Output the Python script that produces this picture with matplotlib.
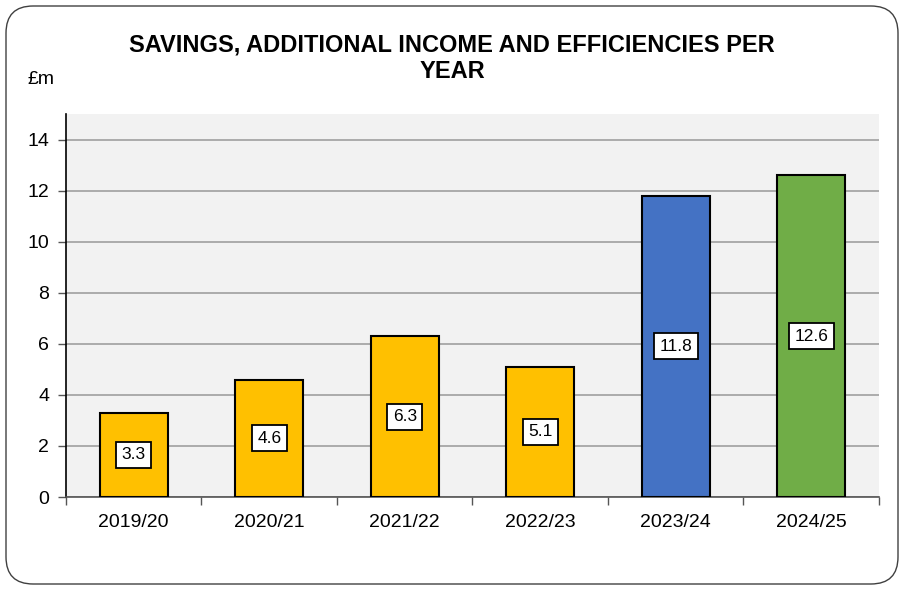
import matplotlib
matplotlib.use("Agg")
import matplotlib.pyplot as plt
from matplotlib.patches import FancyBboxPatch
import numpy as np

categories = ["2019/20", "2020/21", "2021/22", "2022/23", "2023/24", "2024/25"]
values = [3.3, 4.6, 6.3, 5.1, 11.8, 12.6]
colors = ["#FFC000", "#FFC000", "#FFC000", "#FFC000", "#4472C4", "#70AD47"]
yticks = [0, 2, 4, 6, 8, 10, 12, 14]

plt.rcParams['font.family'] = ['Liberation Sans', 'DejaVu Sans']

fig = plt.figure(figsize=(9.04, 5.90), dpi=100)
ax = fig.add_axes([66/904, 1-497/590, (879-66)/904, (497-114)/590])
ax.set_facecolor("#F2F2F2")

x = np.arange(len(categories))
bars = ax.bar(x, values, width=0.5, color=colors, edgecolor="black", linewidth=1.5, zorder=3)

for xi, v in zip(x, values):
    ax.text(xi, v/2, f"{v:.1f}", ha="center", va="center", fontsize=12.5, zorder=4,
            bbox=dict(boxstyle="square,pad=0.32", facecolor="white", edgecolor="black", linewidth=1.3))

ax.set_xlim(-0.5, len(categories)-0.5)
ax.set_ylim(0, 15)
ax.set_yticks(yticks)
ax.set_yticklabels([str(t) for t in yticks], fontsize=14)
ax.yaxis.grid(True, color="#A0A0A0", linewidth=1.2, zorder=1)
ax.set_axisbelow(True)

ax.set_xticks(x)
ax.set_xticklabels(categories, fontsize=14)
ax.tick_params(axis="x", which="major", length=0, pad=12)
ax.set_xticks(np.arange(-0.5, len(categories), 1.0), minor=True)
ax.tick_params(axis="x", which="minor", length=6, width=1, color="#555555")
ax.tick_params(axis="y", length=6, width=1, color="#555555", pad=6)

for s in ["top", "right"]:
    ax.spines[s].set_visible(False)
ax.spines["left"].set_color("black")
ax.spines["bottom"].set_color("#555555")
ax.spines["left"].set_linewidth(1.2)
ax.spines["bottom"].set_linewidth(1.2)

fig.text(452/904, 1-45/590, "SAVINGS, ADDITIONAL INCOME AND EFFICIENCIES PER",
         ha="center", va="center", fontsize=17, fontweight="bold")
fig.text(452/904, 1-72/590, "YEAR",
         ha="center", va="center", fontsize=17, fontweight="bold")
fig.text(28/904, 1-80/590, "£m", ha="left", va="center", fontsize=14)

border = FancyBboxPatch((6/904, 6/590), 892/904, 578/590,
                        boxstyle="round,pad=0,rounding_size=0.03",
                        transform=fig.transFigure, facecolor="none",
                        edgecolor="#404040", linewidth=1.0, mutation_aspect=904/590)
fig.patches.append(border)

fig.savefig("out.png", dpi=100)
